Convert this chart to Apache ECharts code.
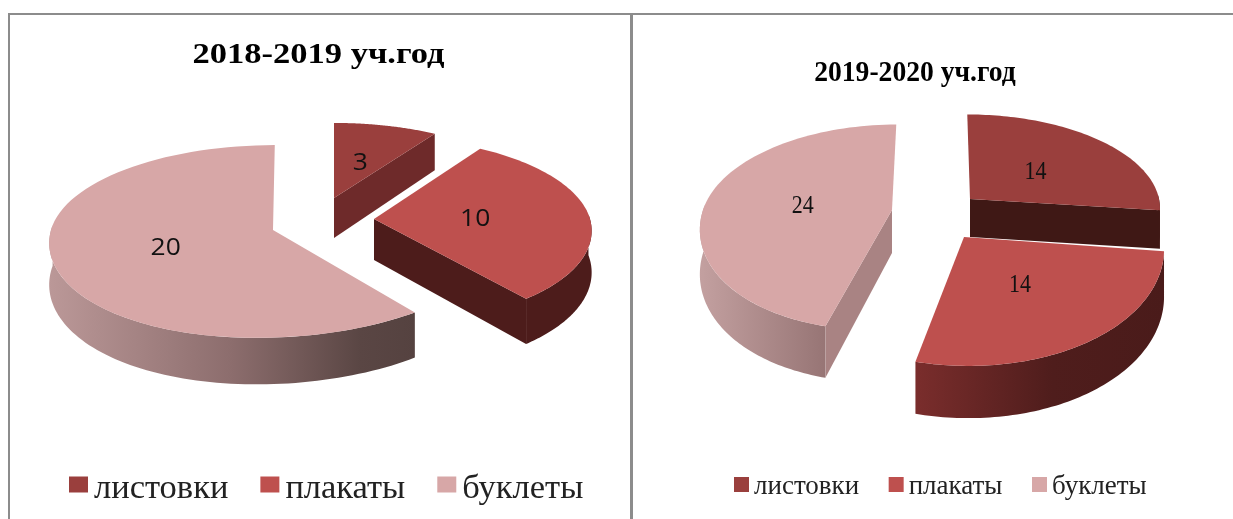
<!DOCTYPE html>
<html><head><meta charset="utf-8">
<style>html,body{margin:0;padding:0;background:#fff}#c{width:1233px;height:519px}</style>
<script src="https://cdn.jsdelivr.net/npm/echarts@6/dist/echarts.min.js"></script>
</head><body><div id="c"></div>
<script>
const categories = ['листовки', 'плакаты', 'буклеты'];
const titles = ['2018-2019 уч.год', '2019-2020 уч.год'];
const values2018 = [3, 10, 20];
const values2019 = [14, 14, 24];

const topColors = ['#9a3f3d', '#be504e', '#d7a7a7'];
const SERIF = '"Liberation Serif"';

// Perspective and explosion of each slice; angles come from the values.
const geom = [
  [
    {cx:334, cy:198, rx:205, ry:84, k:.119, shB:0, shT:0, d:40, radial:'#6e2a2a', arc:[[0,'#6e2a2a'],[1,'#6e2a2a']], lr:.48},
    {cx:374, cy:219, rx:216, ry:92, k:.119, shB:7, shT:0, d:41, radial:'#4d1c1b', arc:[[0,'#4d1c1b'],[1,'#4d1c1b']], lr:.47},
    {cx:273, cy:230, rx:222, ry:95, k:.119, shB:-14, shT:2, d:41, radial:'#a98383', arc:[[0,'#bb9898'],[.5,'#8c6d6d'],[.85,'#5a4644'],[1,'#554240']], lr:.5}
  ],
  [
    {cx:970, cy:199, rx:189, ry:93, k:.1, shB:0, shT:-3, d:38, radial:'#3f1815', arc:[[0,'#3f1815'],[1,'#3f1815']], lr:.48},
    {cx:964, cy:237, rx:199, ry:116, k:.1, shB:4, shT:0, d:47, radial:'#4d1c1b', arc:[[0,'#7a2d2c'],[.55,'#4f1d1c'],[1,'#4a1b1a']], lr:.47},
    {cx:892, cy:210, rx:189, ry:100, k:.17, shB:-11, shT:5, d:43, radial:'#a98383', arc:[[0,'#c3a0a0'],[1,'#977575']], lr:.48}
  ]
];
const labelStyle = [
  {font:'24px "Open Sans"', scaleX:1.1, fill:'#111'},
  {font:'25px ' + SERIF, scaleX:.88, fill:'#111'}
];

function pt(g, a, r, drop) {
  const u = Math.sin(a) * r, v = -Math.cos(a) * r;
  const s = 1 / (1 - g.k * v);
  return [g.cx + (g.rx * u + (v > 0 ? g.shB : g.shT) * v * v) * s, g.cy + (g.ry * v + (drop || 0)) * s];
}
function arcPts(g, a0, a1, drop) {
  const out = [], n = 80;
  for (let i = 0; i <= n; i++) out.push(pt(g, a0 + (a1 - a0) * i / n, 1, drop));
  return out;
}
function makeSeries(chartIdx, vals, catIdx) {
  const total = vals.reduce((a, b) => a + b, 0);
  const before = vals.slice(0, catIdx).reduce((a, b) => a + b, 0);
  const g = geom[chartIdx][catIdx];
  return {
    type: 'custom',
    name: categories[catIdx],
    coordinateSystem: 'none',
    silent: true,
    animation: false,
    itemStyle: {color: topColors[catIdx]},
    data: [[vals[catIdx]]],
    renderItem: function (params, api) {
      const val = api.value(0);
      const a0 = before / total * 2 * Math.PI, a1 = (before + val) / total * 2 * Math.PI;
      const rim = arcPts(g, a0, a1, 0), low = arcPts(g, a0, a1, g.d);
      const apex = pt(g, 0, 0, 0), apexLow = pt(g, 0, 0, g.d);
      const mid = (a0 + a1) / 2, lp = pt(g, mid, g.lr, 0), ls = labelStyle[chartIdx];
      const kids = [];
      // The outer wall is only seen on the half of the rim that faces the viewer.
      const f0 = Math.max(a0, Math.PI / 2 - .05), f1 = Math.min(a1, 3 * Math.PI / 2 + .05);
      if (f1 > f0) {
        const fr = arcPts(g, f0, f1, 0), fl = arcPts(g, f0, f1, g.d);
        const xs = fr.map(p => p[0]).concat(fl.map(p => p[0]));
        const grad = new echarts.graphic.LinearGradient(Math.min(...xs), 0, Math.max(...xs), 0,
          g.arc.map(s => ({offset: s[0], color: s[1]})), true);
        kids.push({type:'polygon', shape:{points: fr.concat(fl.slice().reverse())}, style:{fill: grad}});
      }
      // A cut face is shown only when it turns toward the viewer.
      if (Math.sin(a0) < -1e-6) kids.push({type:'polygon', shape:{points:[apex, rim[0], low[0], apexLow]}, style:{fill: g.radial}});
      if (Math.sin(a1) > 1e-6) kids.push({type:'polygon', shape:{points:[apex, rim[rim.length-1], low[low.length-1], apexLow]}, style:{fill: g.radial}});
      kids.push({type:'polygon', shape:{points:[apex].concat(rim)}, style:{fill: topColors[catIdx]}});
      kids.push({type:'text', x: lp[0], y: lp[1] + 2, scaleX: ls.scaleX,
        style:{text: String(val), font: ls.font, fill: ls.fill, textAlign:'center', textVerticalAlign:'middle'}});
      return {type: 'group', children: kids};
    }
  };
}
const series = [];
categories.forEach((c, i) => series.push(makeSeries(0, values2018, i)));
categories.forEach((c, i) => series.push(makeSeries(1, values2019, i)));

const frame = '#8c8c8c';
const chart = echarts.init(document.getElementById('c'), null, {renderer: 'canvas'});
chart.setOption({
  backgroundColor: '#fff',
  animation: false,
  legend: [
    {left: 64, top: 466, data: categories, selectedMode: false, icon: 'rect', itemWidth: 19, itemHeight: 16, itemGap: 32,
      formatter: '{t|{name}}',
      textStyle: {rich: {t: {fontFamily: SERIF, fontSize: 34.5, color: '#222', padding: [8,0,0,1]}}}},
    {left: 729, top: 468, data: categories, selectedMode: false, icon: 'rect', itemWidth: 15, itemHeight: 15, itemGap: 29.5,
      formatter: '{t|{name}}',
      textStyle: {rich: {t: {fontFamily: SERIF, fontSize: 27, color: '#222', padding: [4,0,0,0]}}}}
  ],
  graphic: [
    {type:'rect', silent:true, z:-1, shape:{x:8, y:13, width:2, height:506}, style:{fill:frame}},
    {type:'rect', silent:true, z:-1, shape:{x:8, y:13, width:1225, height:2}, style:{fill:frame}},
    {type:'rect', silent:true, z:-1, shape:{x:630, y:13, width:3, height:506}, style:{fill:frame}},
    {type:'text', x:318.5, y:55, scaleX:1.15, style:{text:titles[0], font:'bold 30px ' + SERIF, fill:'#000', textAlign:'center', textVerticalAlign:'middle'}},
    {type:'text', x:915, y:73, scaleX:.92, style:{text:titles[1], font:'bold 30px ' + SERIF, fill:'#000', textAlign:'center', textVerticalAlign:'middle'}}
  ],
  series: series
});
</script></body></html>
